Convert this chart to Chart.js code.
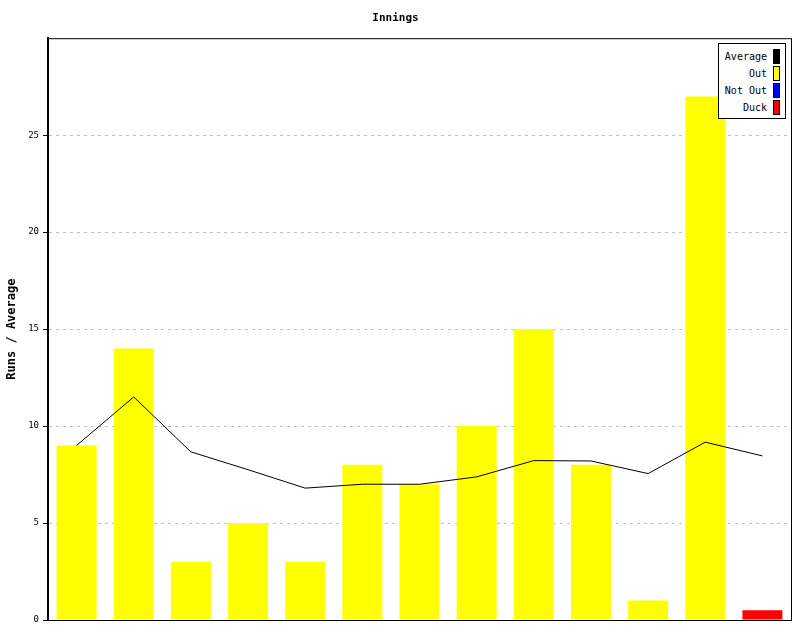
<!DOCTYPE html>
<html>
<head>
<meta charset="utf-8">
<script src="https://cdn.jsdelivr.net/npm/chart.js@4/dist/chart.umd.min.js"></script>
<style>
    body { margin: 0; background: #fff; }
    #wrap { position: relative; width: 800px; height: 640px; }
    #legend {
        position: absolute; left: 718px; top: 43px; width: 66px; height: 74px;
        border: 1px solid #000; background: #fff;
        font: 10px "DejaVu Sans Mono", monospace; color: #000;
        -webkit-font-smoothing: antialiased;
    }
    #legend div { position: absolute; right: 5px; height: 17px; line-height: 17px; white-space: nowrap; color: #000; }
    #legend span.box { display: inline-block; width: 5px; height: 13px; border: 1px solid #000; vertical-align: middle; margin-left: 6px; margin-top: -2px; }
</style>
</head>
<body>
<div id="wrap">
    <canvas id="inningsChart" width="800" height="640"></canvas>
    <div id="legend"></div>
</div>
<script>
    // innings data
    let innings = ['1', '2', '3', '4', '5', '6', '7', '8', '9', '10', '11', '12', '13'];
    let outRuns = [9, 14, 3, 5, 3, 8, 7, 10, 15, 8, 1, 27, null];
    let notOutRuns = [null, null, null, null, null, null, null, null, null, null, null, null, null];
    let duckRuns = [null, null, null, null, null, null, null, null, null, null, null, null, 0.5];
    let average = [9, 11.5, 8.67, 7.75, 6.8, 7, 7, 7.38, 8.22, 8.2, 7.55, 9.17, 8.46];
    let yTicks = [0, 5, 10, 15, 20, 25];

    const monoFont = '"DejaVu Sans Mono", monospace';

    // black box round the plot
    const frame = {
        id: 'frame',
        afterDatasetsDraw(chart) {
            const a = chart.chartArea;
            const c = chart.ctx;
            c.save();
            c.strokeStyle = '#000';
            c.lineWidth = 1;
            c.strokeRect(a.left + 0.5, a.top + 0.5, a.right - a.left, a.bottom - a.top);
            c.restore();
        }
    };

    let ctx = document.getElementById('inningsChart').getContext('2d');
    let inningsChart = new Chart(ctx, {
        type: 'bar',
        data: {
            labels: innings,
            datasets: [{
                type: 'line',
                label: 'Average',
                data: average,
                borderColor: '#000',
                backgroundColor: '#000',
                borderWidth: 1,
                pointRadius: 0,
                tension: 0,
                order: 0
            }, {
                label: 'Out',
                data: outRuns,
                backgroundColor: '#ffff00',
                grouped: false,
                order: 1
            }, {
                label: 'Not Out',
                data: notOutRuns,
                backgroundColor: '#0000ff',
                grouped: false,
                order: 1
            }, {
                label: 'Duck',
                data: duckRuns,
                backgroundColor: '#ff0000',
                grouped: false,
                order: 1
            }]
        },
        options: {
            responsive: false,
            animation: false,
            layout: { padding: { left: 0, right: 9, bottom: 20 } },
            datasets: { bar: { barPercentage: 0.7, categoryPercentage: 1 } },
            scales: {
                x: {
                    display: false
                },
                y: {
                    min: 0,
                    max: 30,
                    afterBuildTicks: (scale) => { scale.ticks = yTicks.map(v => ({ value: v })); },
                    afterFit: (scale) => { scale.width = 48; },
                    ticks: {
                        color: '#000',
                        font: { family: monoFont, size: 9 },
                        padding: 4
                    },
                    grid: {
                        color: '#c0c0c0',
                        tickColor: '#000',
                        tickLength: 5,
                        tickBorderDash: [],
                        drawOnChartArea: true
                    },
                    border: { display: true, color: '#000', width: 2, dash: [3, 4] },
                    title: {
                        display: true,
                        text: 'Runs / Average',
                        color: '#000',
                        font: { family: monoFont, size: 12, weight: 'bold' },
                        padding: { top: 5, bottom: 2 }
                    }
                }
            },
            plugins: {
                legend: { display: false },
                tooltip: { enabled: false },
                title: {
                    display: true,
                    text: 'Innings',
                    color: '#000',
                    font: { family: monoFont, size: 11, weight: 'bold' },
                    padding: { top: 12, bottom: 13 }
                }
            }
        },
        plugins: [frame]
    });

    // legend, text on the left and colour box on the right
    let legendEl = document.getElementById('legend');
    inningsChart.data.datasets.forEach((ds, i) => {
        let row = document.createElement('div');
        row.style.top = (4 + i * 17) + 'px';
        row.innerHTML = ds.label + '<span class="box" style="background:' + ds.backgroundColor + '"></span>';
        legendEl.appendChild(row);
    });
</script>
</body>
</html>
